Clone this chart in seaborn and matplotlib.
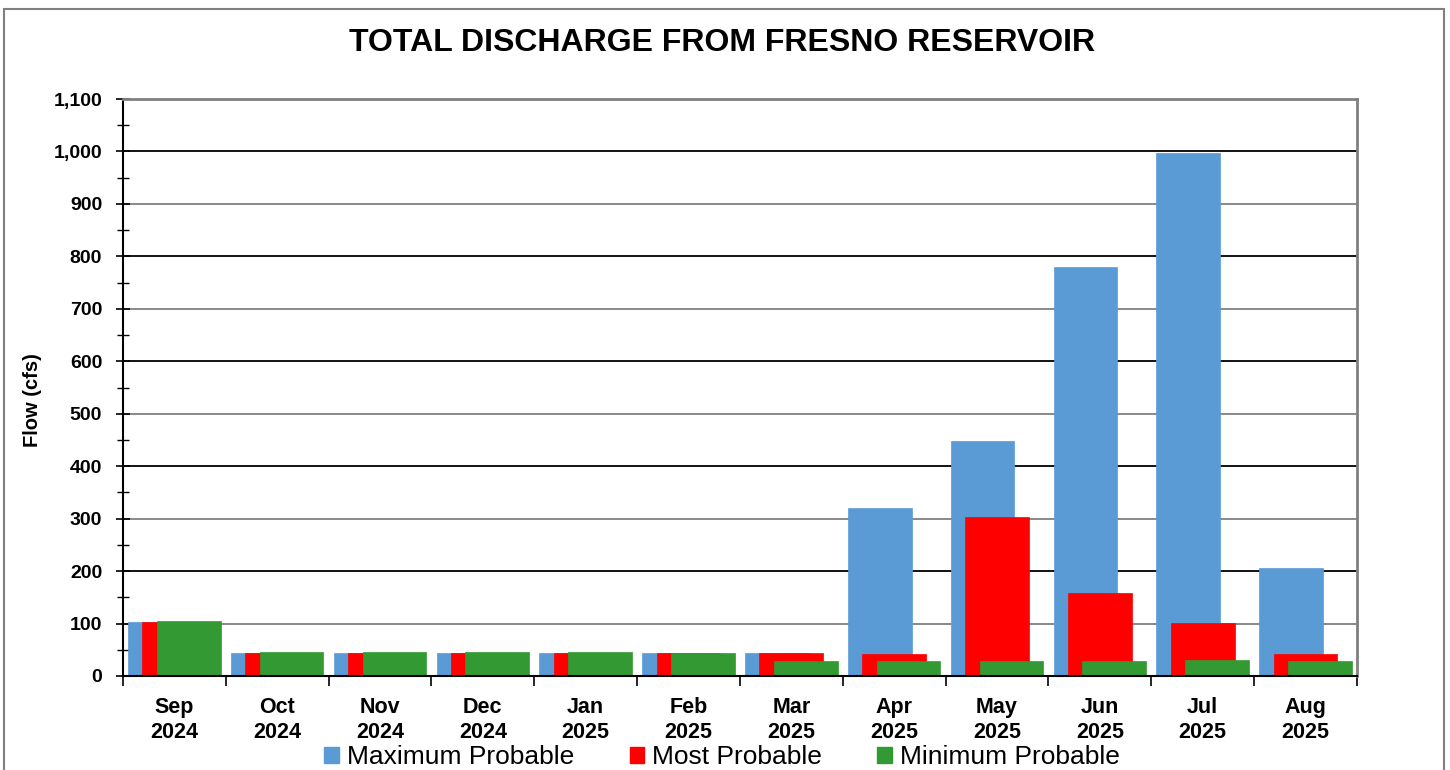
import numpy as np
import pandas as pd
import matplotlib
matplotlib.use('Agg')
import matplotlib.pyplot as plt
from matplotlib.patches import Patch, Rectangle
from matplotlib.ticker import FuncFormatter, MultipleLocator
import seaborn as sns

# Data (cfs)
months = ['Sep\n2024', 'Oct\n2024', 'Nov\n2024', 'Dec\n2024', 'Jan\n2025', 'Feb\n2025',
          'Mar\n2025', 'Apr\n2025', 'May\n2025', 'Jun\n2025', 'Jul\n2025', 'Aug\n2025']
max_probable = [103, 44, 43, 43, 43, 43, 43, 320, 448, 780, 997, 206]
most_probable = [103, 44, 43, 43, 43, 43, 44, 42, 303, 158, 101, 42]
min_probable = [105, 46, 45, 45, 45, 44, 28, 28, 28, 29, 30, 28]

series_names = ['Maximum Probable', 'Most Probable', 'Minimum Probable']
colors = ['#5B9BD5', '#FF0000', '#339933']

sns.set_style('white')
plt.rcParams['font.family'] = ['Liberation Sans', 'DejaVu Sans']
plt.rcParams.update({'text.color': 'black', 'axes.labelcolor': 'black',
                     'xtick.color': 'black', 'ytick.color': 'black'})

fig = plt.figure(figsize=(14.5, 7.7), dpi=100)
ax = fig.add_axes([0.0848, 0.1221, 0.8510, 0.7493])

# gridlines first, alternating dark / gray
for v in range(100, 1101, 100):
    ax.axhline(v, color='#000000' if v % 200 == 0 else '#808080', lw=1.3, zorder=0)

offsets = [-0.14, 0.0, 0.14]
bar_width = 0.62
for name, vals, col, off in zip(series_names, [max_probable, most_probable, min_probable], colors, offsets):
    df = pd.DataFrame({'month': months, 'flow': vals})
    n_before = len(ax.patches)
    sns.barplot(data=df, x='month', y='flow', color=col, width=bar_width,
                saturation=1, ax=ax, zorder=2)
    for p in ax.patches[n_before:]:
        p.set_x(p.get_x() + off)
        p.set_edgecolor(col)
        p.set_linewidth(0.5)

ax.set_xlim(-0.5, len(months) - 0.5)
ax.set_ylim(0, 1100)

# x ticks at category boundaries, labels at centers
ax.set_xticks(np.arange(-0.5, len(months), 1.0))
ax.set_xticklabels([])
ax.set_xticks(np.arange(len(months)), minor=True)
ax.set_xticklabels(months, minor=True, fontsize=15.5, fontweight='bold', linespacing=1.25)
ax.tick_params(axis='x', which='major', direction='out', length=7, width=1.2, bottom=True)
ax.tick_params(axis='x', which='minor', length=0, pad=15)

ax.yaxis.set_major_locator(MultipleLocator(100))
ax.yaxis.set_minor_locator(MultipleLocator(50))
ax.yaxis.set_major_formatter(FuncFormatter(lambda v, p: f'{int(v):,}'))
ax.tick_params(axis='y', which='major', direction='inout', length=10, width=1.2, left=True,
               labelsize=14, pad=10)
ax.tick_params(axis='y', which='minor', direction='inout', length=8, width=1.0, left=True)
for lab in ax.get_yticklabels():
    lab.set_fontweight('bold')

ax.set_xlabel('')
ax.set_ylabel('')
fig.text(33 / 1450, 1 - 400 / 770, 'Flow (cfs)', rotation=90, ha='center', va='center',
         fontsize=14.5, fontweight='bold')

for side in ['left', 'bottom']:
    ax.spines[side].set_color('black')
    ax.spines[side].set_linewidth(1.5)
for side in ['right', 'top']:
    ax.spines[side].set_color('#808080')
    ax.spines[side].set_linewidth(2)
ax.spines['bottom'].set_zorder(5)

fig.text(722 / 1450, 1 - 43 / 770, 'TOTAL DISCHARGE FROM FRESNO RESERVOIR',
         ha='center', va='center', fontsize=23, fontweight='bold')

handles = [Patch(facecolor=c, edgecolor=c, label=n) for n, c in zip(series_names, colors)]
fig.legend(handles=handles, loc='center', bbox_to_anchor=(722 / 1450, 1 - 757 / 770),
           ncol=3, frameon=False, fontsize=19, handlelength=0.55, handleheight=0.55,
           handletextpad=0.3, columnspacing=2.1, borderaxespad=0)

# outer chart frame
fig.patches.append(Rectangle((4 / 1450, -0.05), 1440 / 1450, 1 - 9 / 770 + 0.05,
                             transform=fig.transFigure, fill=False,
                             edgecolor='#808080', lw=1.5, zorder=0))

fig.savefig('out.png', dpi=100)
